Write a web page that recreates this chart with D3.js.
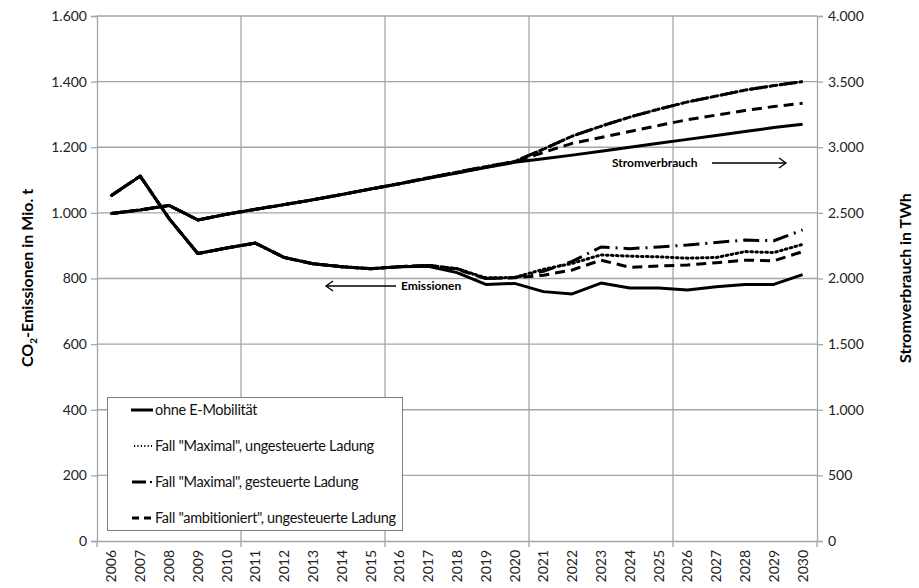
<!DOCTYPE html>
<html><head><meta charset="utf-8">
<script src="https://cdn.jsdelivr.net/npm/d3@7"></script>
<style>body{margin:0;background:#fff}svg{display:block}</style>
</head><body>
<svg id="c" width="919" height="588"></svg>
<script>
const years = d3.range(2006, 2031).map(String);
// CO2 emissions (Mio. t), left axis
const emOhne = [1053,1112,983,876,893,908,864,845,836,830,836,837,818,782,785,760,753,786,771,771,765,775,782,782,812];
const emMaxU = [1053,1112,983,876,893,908,864,845,836,830,836,840,830,802,803,828,846,872,868,866,862,864,882,879,904];
const emMaxG = [1053,1112,983,876,893,908,864,845,836,830,836,840,830,800,803,822,852,896,891,896,902,910,917,915,948];
const emAmb  = [1053,1112,983,876,893,908,864,845,836,830,836,840,828,800,802,810,826,856,834,838,841,848,856,854,882];
// Electricity consumption (TWh), right axis
const stOhne = [2495,2522,2557,2446,2490,2527,2563,2600,2640,2682,2722,2763,2803,2845,2885,2912,2940,2970,3000,3030,3060,3090,3120,3150,3175];
const stMax  = [2495,2522,2557,2446,2490,2527,2563,2600,2640,2682,2722,2768,2810,2852,2892,2985,3085,3160,3230,3290,3345,3390,3435,3470,3500];
const stAmb  = [2495,2522,2557,2446,2490,2527,2563,2600,2640,2682,2722,2766,2806,2848,2888,2960,3030,3075,3120,3165,3210,3245,3280,3310,3335];
const leftTicks = [0,200,400,600,800,1000,1200,1400,1600];
const rightTicks = [0,500,1000,1500,2000,2500,3000,3500,4000];
const legendLabels = ["ohne E-Mobilität", "Fall \"Maximal\", ungesteuerte Ladung", "Fall \"Maximal\", gesteuerte Ladung", "Fall \"ambitioniert\", ungesteuerte Ladung"];

const L = 97, R = 817, T = 16, B = 541;
const svg = d3.select("#c");
const loc = d3.formatLocale({decimal: ",", thousands: ".", grouping: [3], currency: ["", "€"]});
const fmt = loc.format(",d");
const font = "Lato, 'Open Sans', sans-serif";
const x = d3.scaleBand().domain(years).range([L, R]).paddingInner(0).paddingOuter(0);
const yL = d3.scaleLinear().domain([0, 1600]).range([B, T]);
const yR = d3.scaleLinear().domain([0, 4000]).range([B, T]);
const cx = d => x(d) + x.bandwidth() / 2;
const grid = "#a6a6a6";

// horizontal gridlines
svg.append("g").selectAll("line").data(leftTicks.filter(v => v > 0)).join("line")
  .attr("x1", L).attr("x2", R).attr("y1", d => yL(d)).attr("y2", d => yL(d))
  .attr("stroke", grid).attr("stroke-width", 1.3);
// vertical gridlines every 5 categories
const vg = years.filter((d, i) => i > 0 && i % 5 === 0);
svg.append("g").selectAll("line").data(vg).join("line")
  .attr("x1", d => x(d)).attr("x2", d => x(d)).attr("y1", T).attr("y2", B)
  .attr("stroke", grid).attr("stroke-width", 1.3);

// axes
const axL = svg.append("g").attr("transform", `translate(${L},0)`)
  .call(d3.axisLeft(yL).tickValues(leftTicks).tickFormat(fmt).tickSize(6).tickPadding(4));
const axR = svg.append("g").attr("transform", `translate(${R},0)`)
  .call(d3.axisRight(yR).tickValues(rightTicks).tickFormat(fmt).tickSize(6).tickPadding(5));
const axB = svg.append("g").attr("transform", `translate(0,${B})`)
  .call(d3.axisBottom(x).tickSize(0).tickPadding(8));
// bottom ticks at every 5th boundary
svg.append("g").selectAll("line").data([years[0]].concat(vg)).join("line")
  .attr("x1", d => x(d)).attr("x2", d => x(d)).attr("y1", B).attr("y2", B + 6)
  .attr("stroke", grid).attr("stroke-width", 1.3);
svg.append("line").attr("x1", R).attr("x2", R).attr("y1", B).attr("y2", B + 6).attr("stroke", grid).attr("stroke-width", 1.3);
[axL, axR, axB].forEach(a => {
  a.selectAll(".domain").attr("stroke", grid).attr("stroke-width", 1.3);
  a.selectAll(".tick line").attr("stroke", grid).attr("stroke-width", 1.3);
  a.selectAll("text").attr("fill", "#222").style("font-family", font).style("font-size", "14px");
});
axB.selectAll("text")
  .attr("text-anchor", "end").attr("dy", "0.35em").attr("x", 0).attr("y", 0)
  .attr("transform", "translate(0,9) rotate(-90)");

// series
const line = (yS) => d3.line().x((d, i) => cx(years[i])).y(d => yS(d));
const styles = [
  {dash: null},
  {dash: "1.6,3.4", cap: "round"},
  {dash: "16,6,2,6"},
  {dash: "10,6"}
];
const draw = (arr, yS, st, w) => svg.append("path").datum(arr).attr("d", line(yS))
  .attr("fill", "none").attr("stroke", "#000").attr("stroke-width", w)
  .attr("stroke-dasharray", st.dash).attr("stroke-linecap", st.cap || "butt").attr("stroke-linejoin", "round");
draw(stAmb, yR, styles[3], 3);
draw(stMax, yR, styles[2], 3);
draw(stMax, yR, styles[1], 3);
draw(stOhne, yR, styles[0], 3);
draw(emAmb, yL, styles[3], 3);
draw(emMaxG, yL, styles[2], 3);
draw(emMaxU, yL, styles[1], 3);
draw(emOhne, yL, styles[0], 3);

// annotations
const ann = svg.append("g").style("font-family", font).style("font-weight", "bold").style("font-size", "12px");
ann.append("text").attr("x", 612).attr("y", 167).text("Stromverbrauch");
ann.append("line").attr("x1", 712).attr("x2", 786).attr("y1", 163).attr("y2", 163).attr("stroke", "#000").attr("stroke-width", 1.3);
ann.append("path").attr("d", "M779,158 L786,163 L779,168").attr("fill", "none").attr("stroke", "#000").attr("stroke-width", 1.3);
ann.append("text").attr("x", 401).attr("y", 290).text("Emissionen");
ann.append("line").attr("x1", 326).attr("x2", 396).attr("y1", 286).attr("y2", 286).attr("stroke", "#000").attr("stroke-width", 1.3);
ann.append("path").attr("d", "M333,281 L326,286 L333,291").attr("fill", "none").attr("stroke", "#000").attr("stroke-width", 1.3);

// legend
const lg = svg.append("g");
lg.append("rect").attr("x", 107.5).attr("y", 397.5).attr("width", 295).attr("height", 133)
  .attr("fill", "#fff").attr("stroke", "#7f7f7f").attr("stroke-width", 1);
const rowY = [410, 446, 482, 518];
legendLabels.forEach((lab, i) => {
  const y = rowY[i];
  if (i === 0) lg.append("line").attr("x1", 131).attr("x2", 153).attr("y1", y).attr("y2", y).attr("stroke", "#000").attr("stroke-width", 3);
  if (i === 1) lg.append("line").attr("x1", 134).attr("x2", 152).attr("y1", y).attr("y2", y).attr("stroke", "#000").attr("stroke-width", 2).attr("stroke-dasharray", "1.2,2.2");
  if (i === 2) { lg.append("line").attr("x1", 132).attr("x2", 146).attr("y1", y).attr("y2", y).attr("stroke", "#000").attr("stroke-width", 3);
                 lg.append("line").attr("x1", 150).attr("x2", 152).attr("y1", y).attr("y2", y).attr("stroke", "#000").attr("stroke-width", 2); }
  if (i === 3) { lg.append("line").attr("x1", 132).attr("x2", 139).attr("y1", y).attr("y2", y).attr("stroke", "#000").attr("stroke-width", 3);
                 lg.append("line").attr("x1", 144).attr("x2", 151).attr("y1", y).attr("y2", y).attr("stroke", "#000").attr("stroke-width", 3); }
  lg.append("text").attr("x", 155).attr("y", y + 5).text(lab)
    .style("font-family", font).style("font-size", "14.5px").style("letter-spacing", "-0.3px").attr("fill", "#111");
});

// axis titles
const t1 = svg.append("text").attr("transform", `translate(33,278) rotate(-90)`).attr("text-anchor", "middle")
  .style("font-family", font).style("font-weight", "bold").style("font-size", "16px");
t1.append("tspan").text("CO");
t1.append("tspan").text("2").attr("font-size", "10px").attr("dy", 4);
t1.append("tspan").text("-Emissionen in Mio. t").attr("dy", -4);
svg.append("text").attr("transform", `translate(911,278) rotate(-90)`).attr("text-anchor", "middle")
  .style("font-family", font).style("font-weight", "bold").style("font-size", "16px").text("Stromverbrauch in TWh");
</script>
</body></html>
